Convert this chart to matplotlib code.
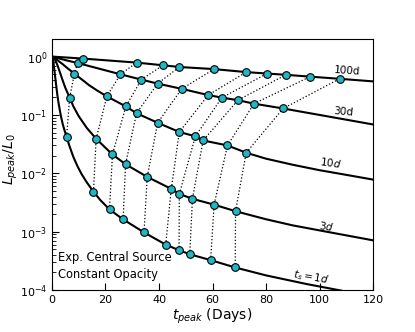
import numpy as np
import matplotlib
matplotlib.use("Agg")
import matplotlib.pyplot as plt

# curve labels (source time scale t_s)
ts_labels = ["$t_s = 1d$", "$3d$", "$10d$", "30d", "100d"]

# L_peak/L_0 tracks, one per t_s
t_1d = [0, 0.5, 1, 1.5, 2, 2.5, 3, 3.5, 4, 4.5, 5.45, 6.5, 8, 9.5, 11, 13, 15.5, 18, 21.5, 26.6,
        34.4, 42.5, 47.5, 51.5, 59.3, 68.5, 80, 95, 110, 120]
L_1d = [1, 0.82, 0.53, 0.34, 0.22, 0.155, 0.115, 0.088, 0.07, 0.058, 0.0422, 0.0296, 0.019, 0.0133,
        0.0098, 0.007, 0.00485, 0.0035, 0.0024, 0.00162, 0.00097, 0.0006, 0.00048, 0.00041,
        0.000325, 0.000243, 0.000178, 0.000127, 9.4e-5, 7.9e-5]

t_3d = [0, 1, 2, 3, 4, 5, 6.6, 8, 10, 13, 16.5, 22.6, 27.5, 35.6, 44.6, 47.6, 52.5, 60.6, 68.6,
        80, 90, 102.5, 120]
L_3d = [1, 0.91, 0.72, 0.53, 0.39, 0.29, 0.198, 0.14, 0.095, 0.06, 0.039, 0.021, 0.0143, 0.00867,
        0.0054, 0.00444, 0.00365, 0.0029, 0.00224, 0.00163, 0.00128, 0.001, 0.00071]

t_10d = [0, 2, 4, 6, 8.4, 11, 14, 17, 20.5, 27.6, 31.6, 39.5, 47.6, 53.6, 56.5, 65.6, 72.6, 80,
         90, 100, 110, 120]
L_10d = [1, 0.87, 0.74, 0.62, 0.51, 0.41, 0.32, 0.26, 0.208, 0.14, 0.107, 0.0734, 0.051, 0.043,
         0.0365, 0.03, 0.0225, 0.0178, 0.014, 0.0113, 0.0094, 0.0078]

t_30d = [0, 5, 9.55, 25.6, 33.4, 39.5, 48.5, 58.4, 63.5, 69.5, 75.5, 86.4, 100, 120]
L_30d = [1, 0.87, 0.776, 0.497, 0.403, 0.344, 0.28, 0.219, 0.198, 0.179, 0.156, 0.129, 0.1, 0.0687]

t_100d = [0, 11.6, 31.6, 41.5, 47.6, 60.6, 72.6, 80.4, 87.4, 96.5, 107.5, 120]
L_100d = [1, 0.924, 0.789, 0.709, 0.663, 0.61, 0.542, 0.512, 0.487, 0.453, 0.416, 0.376]

# marked peaks on each track (same ten models across t_s)
mk_t_1d = [5.45, 15.5, 21.5, 26.6, 34.4, 42.5, 47.5, 51.5, 59.3, 68.5]
mk_L_1d = [0.0422, 0.00485, 0.0024, 0.00162, 0.00097, 0.0006, 0.00048, 0.00041, 0.000325, 0.000243]
mk_t_3d = [6.6, 16.5, 22.6, 27.5, 35.6, 44.6, 47.6, 52.5, 60.6, 68.6]
mk_L_3d = [0.198, 0.039, 0.021, 0.0143, 0.00867, 0.0054, 0.00444, 0.00365, 0.0029, 0.00224]
mk_t_10d = [8.4, 20.5, 27.6, 31.6, 39.5, 47.6, 53.6, 56.5, 65.6, 72.6]
mk_L_10d = [0.51, 0.208, 0.14, 0.107, 0.0734, 0.051, 0.043, 0.0365, 0.03, 0.0225]
mk_t_30d = [9.55, 25.6, 33.4, 39.5, 48.5, 58.4, 63.5, 69.5, 75.5, 86.4]
mk_L_30d = [0.776, 0.497, 0.403, 0.344, 0.28, 0.219, 0.198, 0.179, 0.156, 0.129]
mk_t_100d = [11.6, 31.6, 41.5, 47.6, 60.6, 72.6, 80.4, 87.4, 96.5, 107.5]
mk_L_100d = [0.924, 0.789, 0.709, 0.663, 0.61, 0.542, 0.512, 0.487, 0.453, 0.416]

# label anchor points (t, L, rotation)
lab_t = [96.8, 102.7, 104, 108.9, 110.2]
lab_L = [1.66e-4, 0.00126, 0.01545, 0.1135, 0.566]
lab_rot = [-10, -8, -8, -5, -4]

curves = [(t_1d, L_1d), (t_3d, L_3d), (t_10d, L_10d), (t_30d, L_30d), (t_100d, L_100d)]
marks_t = np.array([mk_t_1d, mk_t_3d, mk_t_10d, mk_t_30d, mk_t_100d])
marks_L = np.array([mk_L_1d, mk_L_3d, mk_L_10d, mk_L_30d, mk_L_100d])

fig = plt.figure(figsize=(4.15, 3.32), dpi=100)
ax = fig.add_axes([0.1253, 0.1265, 0.7735, 0.756])

for t, L in curves:
    ax.plot(t, L, color="black", lw=1.5, zorder=2)

# dotted connectors between matching models
for j in range(marks_t.shape[1]):
    ax.plot(marks_t[:, j], marks_L[:, j], color="black", ls=":", lw=0.9, zorder=1)

ax.plot(marks_t.ravel(), marks_L.ravel(), ls="none", marker="o", ms=5.5,
        mfc="#1fb7c5", mec="black", mew=0.8, zorder=3)

for lab, x, y, r in zip(ts_labels, lab_t, lab_L, lab_rot):
    ax.text(x, y, lab, rotation=r, ha="center", va="center", fontsize=7.5)

ax.text(2.1, 3.6e-4, "Exp. Central Source", fontsize=8.3, va="center")
ax.text(2.1, 1.82e-4, "Constant Opacity", fontsize=8.3, va="center")

ax.set_yscale("log")
ax.set_xlim(0, 120)
ax.set_ylim(1e-4, 2)
ax.set_xticks([0, 20, 40, 60, 80, 100, 120])
ax.tick_params(which="both", direction="in", labelsize=8, top=False, right=False)
ax.tick_params(which="major", length=5)
ax.tick_params(which="minor", length=3)
ax.tick_params(axis="x", which="minor", bottom=False)
ax.set_xlabel("$t_{peak}$ (Days)", fontsize=10, labelpad=1)
ax.set_ylabel("$L_{peak}/L_0$", fontsize=10)
ax.yaxis.set_label_coords(-0.1, 0.52)

fig.savefig("out.png", dpi=100)
